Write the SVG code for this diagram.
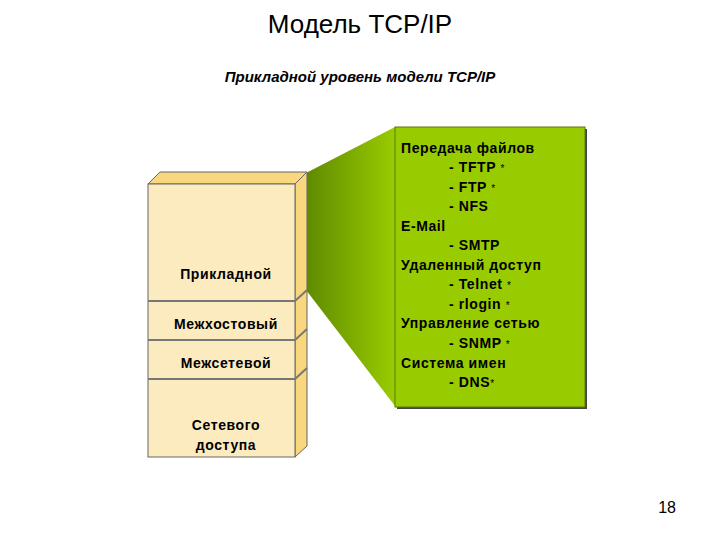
<svg xmlns="http://www.w3.org/2000/svg" width="720" height="540" viewBox="0 0 720 540">
<defs>
<linearGradient id="fun" x1="0" y1="0" x2="1" y2="0">
<stop offset="0" stop-color="#5f8a00"/><stop offset="1" stop-color="#99cc00"/>
</linearGradient>
<style>
.t{font-family:"Liberation Sans",Arial,sans-serif;fill:#000}
.l{font-size:14px;font-weight:bold;letter-spacing:0.6px}
.face{fill:#fdebc0;stroke:#666;stroke-width:1}
.side{fill:#f9d77e;stroke:#666;stroke-width:1}
.div{stroke:#777;stroke-width:2}
</style>
</defs>
<rect width="720" height="540" fill="#fff"/>
<text class="t" x="360" y="33" font-size="26" text-anchor="middle">Модель TCP/IP</text>
<text class="t" x="360" y="82" font-size="15" font-weight="bold" font-style="italic" text-anchor="middle">Прикладной уровень модели TCP/IP</text>
<g id="funnel"><polygon points="306,173 395,127 395,406 306,290" fill="url(#fun)"/></g>
<g id="stack">
<polygon class="side" points="148,184 160,172 307,172 295,184"/>
<polygon class="side" points="295,184 307,172 307,446 295,457"/>
<rect class="face" x="148" y="184" width="147" height="273"/>
<line class="div" x1="148" y1="301" x2="295" y2="301"/>
<line class="div" x1="148" y1="340" x2="295" y2="340"/>
<line class="div" x1="148" y1="379" x2="295" y2="379"/>
<line class="div" x1="295" y1="301" x2="307" y2="290"/>
<line class="div" x1="295" y1="340" x2="307" y2="329"/>
<line class="div" x1="295" y1="379" x2="307" y2="368"/>
<text class="t l" x="226" y="279" text-anchor="middle">Прикладной</text>
<text class="t l" x="226" y="329" text-anchor="middle">Межхостовый</text>
<text class="t l" x="226" y="368" text-anchor="middle">Межсетевой</text>
<text class="t l" x="226" y="430" text-anchor="middle">Сетевого</text>
<text class="t l" x="226" y="450" text-anchor="middle">доступа</text>
</g>
<g id="panel">
<rect x="397" y="129" width="190" height="280" fill="#444"/>
<rect x="395" y="127" width="190" height="280" fill="#99cc00" stroke="#5a7a00" stroke-width="1"/>
<g class="t l">
<text x="401" y="153">Передача файлов</text>
<text x="449" y="172">- TFTP <tspan font-size="10" font-weight="normal">*</tspan></text>
<text x="449" y="192">- FTP <tspan font-size="10" font-weight="normal">*</tspan></text>
<text x="449" y="211">- NFS</text>
<text x="401" y="231">E-Mail</text>
<text x="449" y="250">- SMTP</text>
<text x="401" y="270">Удаленный доступ</text>
<text x="449" y="289">- Telnet <tspan font-size="10" font-weight="normal">*</tspan></text>
<text x="449" y="309">- rlogin <tspan font-size="10" font-weight="normal">*</tspan></text>
<text x="401" y="328">Управление сетью</text>
<text x="449" y="348">- SNMP <tspan font-size="10" font-weight="normal">*</tspan></text>
<text x="401" y="368">Система имен</text>
<text x="449" y="387">- DNS<tspan font-size="10" font-weight="normal">*</tspan></text>
</g>
</g>
<text class="t" x="676" y="513" font-size="16" text-anchor="end">18</text>
</svg>
